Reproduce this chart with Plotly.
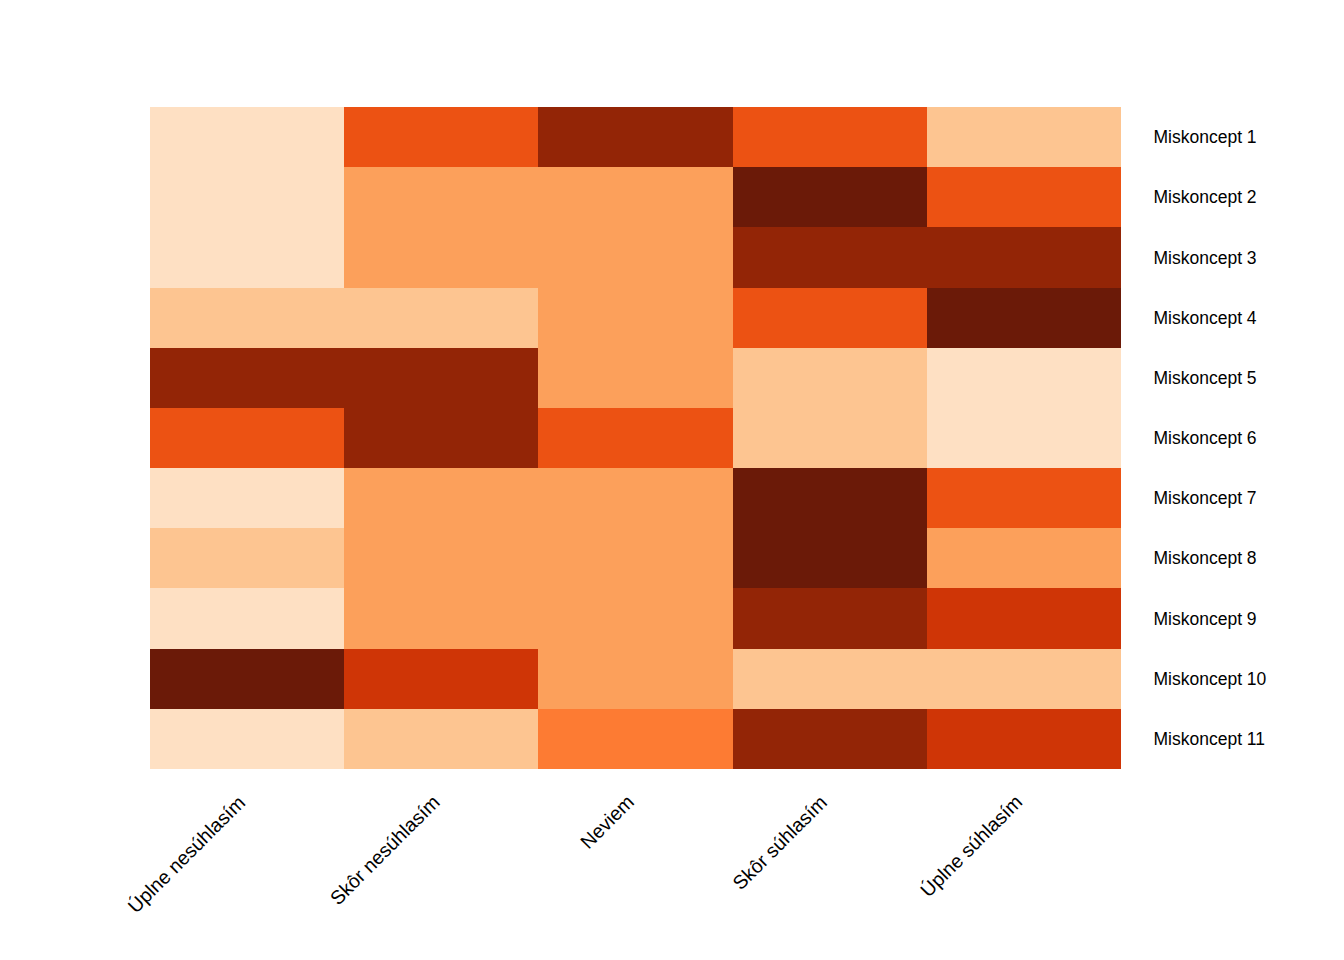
import plotly.graph_objects as go

columns = ["Úplne nesúhlasím", "Skôr nesúhlasím", "Neviem", "Skôr súhlasím", "Úplne súhlasím"]
rows = [f"Miskoncept {i}" for i in range(1, 12)]

# discrete intensity levels (0 = lightest, 7 = darkest)
values = [
    [0, 4, 6, 4, 1],
    [0, 2, 2, 7, 4],
    [0, 2, 2, 6, 6],
    [1, 1, 2, 4, 7],
    [6, 6, 2, 1, 0],
    [4, 6, 4, 1, 0],
    [0, 2, 2, 7, 4],
    [1, 2, 2, 7, 2],
    [0, 2, 2, 6, 5],
    [7, 5, 2, 1, 1],
    [0, 1, 3, 6, 5],
]

colors = ["#fee0c3", "#fdc591", "#fca05b", "#fd7b33", "#ec5213", "#cf3506", "#932506", "#6b1a08"]
n = len(colors)
colorscale = [[i / (n - 1), c] for i, c in enumerate(colors)]

fig = go.Figure(go.Heatmap(
    z=values, x=columns, y=rows,
    colorscale=colorscale, zmin=0, zmax=n - 1,
    showscale=False, xgap=0, ygap=0,
))

font = dict(family="Liberation Sans, Arial, sans-serif", size=17.5, color="black")
xfont = dict(family="Liberation Sans, Arial, sans-serif", size=19.5, color="black")
fig.update_layout(
    width=1344, height=960,
    margin=dict(l=150, r=223, t=107, b=191, autoexpand=False),
    paper_bgcolor="white", plot_bgcolor="white",
    font=font,
)
fig.update_xaxes(range=[-0.5, len(columns) - 0.5], showticklabels=False, ticks="",
                 showgrid=False, zeroline=False, showline=False, automargin=False)
fig.update_yaxes(range=[len(rows) - 0.5, -0.5], side="right", ticks="outside", ticklen=28,
                 tickcolor="rgba(0,0,0,0)", showgrid=False, zeroline=False,
                 showline=False, tickfont=font, automargin=False)

for c in columns:
    fig.add_annotation(x=c, xref="x", y=0, yref="paper", text=c, showarrow=False,
                       textangle=-45, xanchor="right", yanchor="top",
                       xshift=5, yshift=-19, font=xfont)

fig.write_html("out.html")
